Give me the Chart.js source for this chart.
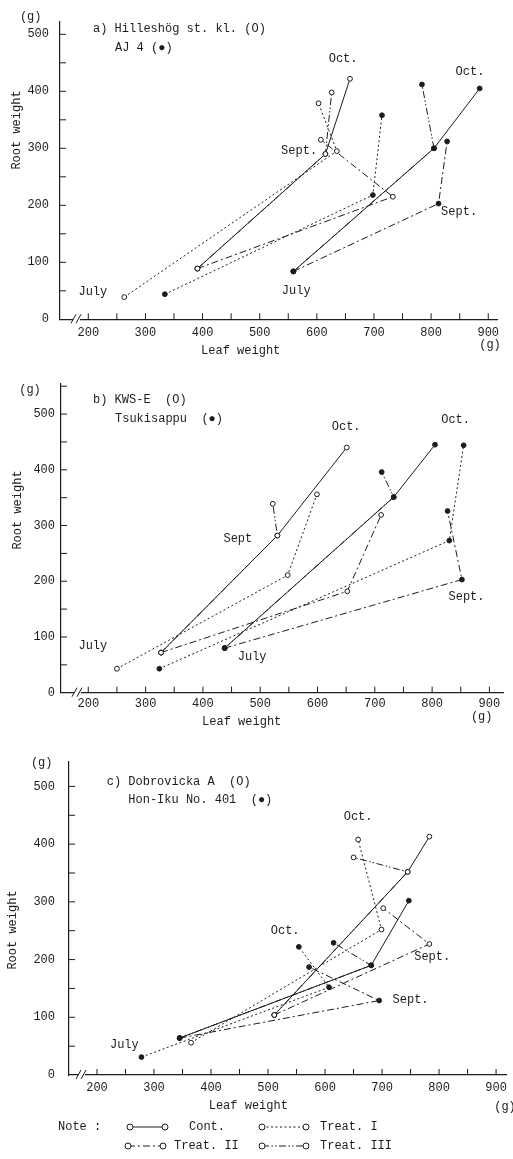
<!DOCTYPE html>
<html>
<head>
<meta charset="utf-8">
<script src="https://cdn.jsdelivr.net/npm/chart.js@4.4.1/dist/chart.umd.min.js"></script>
<style>
  body { margin: 0; background: #fff; width: 513px; height: 1159px; position: relative; overflow: hidden; }
  canvas { position: absolute; left: 0; }
</style>
</head>
<body>
<canvas id="chartA" width="513" height="360" style="top:0px;width:513px;height:360px"></canvas>
<canvas id="chartB" width="513" height="360" style="top:370px;width:513px;height:360px"></canvas>
<canvas id="chartC" width="513" height="419" style="top:740px;width:513px;height:419px"></canvas>
<script>
const treatments = ['Cont.', 'Treat. I', 'Treat. II', 'Treat. III'];
const months = ['July', 'Sept.', 'Oct.'];
const xTickLabels = [200, 300, 400, 500, 600, 700, 800, 900];
const yTickLabels = [0, 100, 200, 300, 400, 500];

// rows = treatments, columns = months (July, Sept., Oct.)
// a) Hilleshog st. kl. (open) / AJ 4 (filled)
const aOpenLeaf = [[391, 615, 658], [263, 635, 603], [391, 733, 607], [391, 615, 626]];
const aOpenRoot = [[89, 290, 422], [39, 295, 379], [89, 215, 315], [89, 290, 398]];
const aFillLeaf = [[559, 805, 885], [334, 698, 714], [559, 813, 828], [559, 805, 784]];
const aFillRoot = [[84, 300, 405], [44, 218, 358], [84, 203, 312], [84, 300, 412]];

// b) KWS-E (open) / Tsukisappu (filled)
const bOpenLeaf = [[327, 530, 651], [250, 548, 599], [327, 652, 711], [327, 530, 522]];
const bOpenRoot = [[72, 282, 440], [43, 211, 356], [72, 182, 319], [72, 282, 339]];
const bFillLeaf = [[438, 733, 805], [324, 830, 855], [438, 852, 827], [438, 733, 712]];
const bFillRoot = [[80, 351, 445], [43, 273, 444], [80, 203, 326], [80, 351, 396]];

// c) Dobrovicka A (open) / Hon-Iku No. 401 (filled)
const cOpenLeaf = [[511, 745, 783], [365, 699, 658], [511, 783, 702], [511, 745, 650]];
const cOpenRoot = [[104, 352, 413], [56, 252, 408], [104, 227, 289], [104, 352, 377]];
const cFillLeaf = [[345, 681, 747], [278, 607, 554], [345, 695, 572], [345, 681, 615]];
const cFillRoot = [[64, 190, 302], [31, 152, 222], [64, 129, 187], [64, 190, 229]];

const INK = '#1c1c1c';
const MONO = "'Liberation Mono', 'DejaVu Sans Mono', monospace";
const dashes = [[], [2, 2.5], [7, 3, 2, 3], [7, 2.5, 1.5, 2, 1.5, 2.5]];

Chart.defaults.font.family = MONO;
Chart.defaults.font.size = 12;
Chart.defaults.color = INK;

function series(leaf, root, open) {
  return treatments.map((t, i) => ({
    label: t,
    data: leaf[i].map((x, k) => ({ x: x, y: root[i][k] })),
    showLine: true,
    borderColor: INK,
    borderWidth: 1,
    borderDash: dashes[i],
    pointRadius: 2.4,
    pointBorderWidth: 1,
    pointBorderColor: INK,
    pointBackgroundColor: open ? '#fff' : INK
  }));
}

// axis ticks inside, break marks, notes and titles
function paperPlugin(p) {
  return {
    id: 'paper',
    afterDraw(chart) {
      const { ctx, chartArea: a, scales: { x, y } } = chart;
      ctx.save();
      ctx.strokeStyle = INK;
      ctx.lineWidth = 1;
      ctx.setLineDash([]);
      x.ticks.forEach(t => {
        if (t.value % 50) return;
        const px = x.getPixelForValue(t.value);
        ctx.beginPath(); ctx.moveTo(px, a.bottom); ctx.lineTo(px, a.bottom - 6); ctx.stroke();
      });
      y.ticks.forEach(t => {
        if (t.value % 50 || t.value === 0) return;
        const py = y.getPixelForValue(t.value);
        ctx.beginPath(); ctx.moveTo(a.left, py); ctx.lineTo(a.left + 6, py); ctx.stroke();
      });
      // break mark on the leaf axis
      ctx.fillStyle = '#fff';
      ctx.fillRect(a.left + p.brk, a.bottom - 2, 7, 4);
      for (let k = 0; k < 2; k++) {
        const bx = a.left + p.brk + k * 5;
        ctx.beginPath(); ctx.moveTo(bx - 2, a.bottom + 4); ctx.lineTo(bx + 3, a.bottom - 5); ctx.stroke();
      }

      ctx.fillStyle = INK;
      ctx.font = '12px ' + MONO;
      ctx.textAlign = 'center';
      ctx.textBaseline = 'middle';
      p.notes.forEach(n => {
        ctx.fillText(n[0], x.getPixelForValue(n[1]), y.getPixelForValue(n[2]));
      });
      p.texts.forEach(t => {
        ctx.save();
        ctx.translate(t[1], t[2]);
        if (t[3] === 'rot') ctx.rotate(-Math.PI / 2);
        ctx.textAlign = t[3] === 'left' ? 'left' : 'center';
        ctx.fillText(t[0], 0, 0);
        ctx.restore();
      });

      // legend (panel c only)
      (p.legend || []).forEach(l => {
        const i = l[0];
        ctx.setLineDash(dashes[i]);
        ctx.beginPath(); ctx.moveTo(l[1], l[4]); ctx.lineTo(l[2], l[4]); ctx.stroke();
        ctx.setLineDash([]);
        [l[1], l[2]].forEach(cx => {
          ctx.beginPath(); ctx.arc(cx, l[4], 3, 0, Math.PI * 2);
          ctx.fillStyle = '#fff'; ctx.fill(); ctx.stroke();
        });
        ctx.fillStyle = INK;
        ctx.textAlign = 'left';
        ctx.fillText(treatments[i], l[3], l[4]);
      });
      ctx.restore();
    }
  };
}

function makeChart(p) {
  new Chart(document.getElementById(p.id), {
    type: 'scatter',
    data: {
      datasets: series(p.openLeaf, p.openRoot, true).concat(series(p.fillLeaf, p.fillRoot, false))
    },
    options: {
      responsive: false,
      animation: false,
      layout: { padding: { left: 0, right: p.padRight, top: p.top, bottom: 0 } },
      plugins: { legend: { display: false }, tooltip: { enabled: false } },
      scales: {
        x: {
          type: 'linear', min: p.xMin, max: p.xMax,
          grid: { display: false, drawTicks: false },
          border: { display: true, color: INK, width: 1.2 },
          ticks: {
            stepSize: 50, includeBounds: false, autoSkip: false, maxRotation: 0, padding: p.xPad, color: INK,
            callback: v => xTickLabels.includes(v) ? v : ''
          },
          afterFit: s => { s.height = p.xHeight; }
        },
        y: {
          type: 'linear', min: 0, max: p.yMax,
          grid: { display: false, drawTicks: false },
          border: { display: true, color: INK, width: 1.2 },
          ticks: {
            stepSize: 50, includeBounds: false, autoSkip: false, padding: p.yPad, color: INK,
            callback: v => yTickLabels.includes(v) ? v : ''
          },
          afterFit: s => { s.width = p.left; }
        }
      }
    },
    plugins: [paperPlugin(p)]
  });
}

makeChart({
  id: 'chartA', openLeaf: aOpenLeaf, openRoot: aOpenRoot, fillLeaf: aFillLeaf, fillRoot: aFillRoot,
  left: 60, padRight: 16, top: 22, xHeight: 40.7, xMin: 150.5, xMax: 915.3, yMax: 521.6,
  yPad: 11, xPad: 6, brk: 13,
  notes: [['Oct.', 646, 457], ['Oct.', 868, 434], ['Sept.', 569, 296], ['Sept.', 849, 189],
          [months[0], 208, 48], [months[0], 564, 50]],
  texts: [['(g)', 30.7, 17.3], ['Root weight', 16.7, 130, 'rot'], ['Leaf weight', 240.7, 351],
          ['(g)', 490, 345], ['a) Hilleshög st. kl. (O)', 93, 29, 'left'], ['AJ 4 (●)', 115, 48, 'left']]
});

makeChart({
  id: 'chartB', openLeaf: bOpenLeaf, openRoot: bOpenRoot, fillLeaf: bFillLeaf, fillRoot: bFillRoot,
  left: 61, padRight: 10, top: 5, xHeight: 37.3, xMin: 152.4, xMax: 923.7, yMax: 555.4,
  yPad: 6, xPad: 4, brk: 13,
  notes: [['Oct.', 650, 478], ['Oct.', 841, 490], ['Sept', 461, 277], ['Sept.', 860, 172],
          [months[0], 208, 85], [months[0], 486, 65]],
  texts: [['(g)', 30, 20], ['Root weight', 18.3, 140, 'rot'], ['Leaf weight', 241.7, 351.7],
          ['(g)', 481.7, 346.7], ['b) KWS-E  (O)', 93, 30, 'left'], ['Tsukisappu  (●)', 115, 49.3, 'left']]
});

makeChart({
  id: 'chartC', openLeaf: cOpenLeaf, openRoot: cOpenRoot, fillLeaf: cFillLeaf, fillRoot: cFillRoot,
  left: 69, padRight: 1.3, top: 16.7, xHeight: 84, xMin: 150.9, xMax: 918.6, yMax: 543.7,
  yPad: 14, xPad: 6, brk: 9,
  notes: [['Oct.', 658, 447], ['Oct.', 530, 249], ['Sept.', 788, 204], ['Sept.', 750, 131],
          [months[0], 248, 53]],
  texts: [['(g)', 41.7, 23.3], ['Root weight', 13.3, 190, 'rot'], ['Leaf weight', 248.3, 366],
          ['(g)', 505, 366.7], ['c) Dobrovicka A  (O)', 106.7, 41.7, 'left'],
          ['Hon-Iku No. 401  (●)', 128.3, 60, 'left'], ['Note :', 58, 387, 'left']],
  legend: [[0, 130, 165, 189, 387], [1, 262, 306, 320, 387], [2, 128, 163, 174, 406], [3, 262, 306, 320, 406]]
});
</script>
</body>
</html>
